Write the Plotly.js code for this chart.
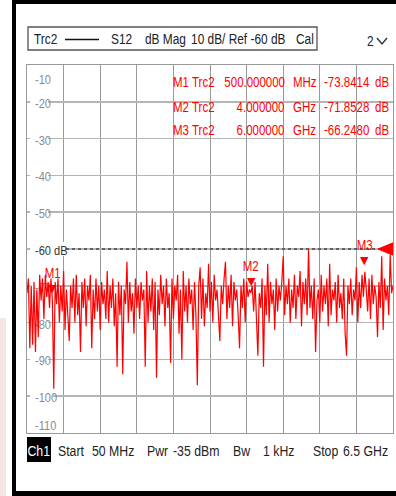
<!DOCTYPE html>
<html>
<head>
<meta charset="utf-8">
<script src="https://cdn.plot.ly/plotly-3.0.1.min.js"></script>
<style>
  html, body { margin: 0; padding: 0; background: #fff; }
  #chart { width: 396px; height: 496px; }
</style>
</head>
<body>
<div id="chart"></div>
<script>
// Sweep settings (GHz)
const startGHz = 0.05;
const stopGHz = 6.5;

// S12 magnitude per sweep point (dB)
const traceDb = [
  -72, -68, -87, -70, -86, -69, -88, -71, -84, -67,
  -74, -68, -79, -67, -73, -69, -76, -68, -73.8, -98,
  -69, -75, -68, -80, -70, -77, -66, -82, -71, -78,
  -85, -70, -76, -68, -80, -67, -78, -72, -88, -69,
  -76, -68, -81, -70, -74, -67, -87, -71, -79, -68,
  -77, -70, -82, -69, -75, -71, -79, -66, -80, -70,
  -76, -68, -81, -72, -92, -69, -78, -70, -94, -71,
  -75, -63.5, -80, -69, -77, -72, -83, -68, -76, -70,
  -79, -69, -74, -71, -92, -66, -80, -70, -77, -68,
  -82, -69, -95, -71, -78, -67, -75, -70, -81, -68,
  -76, -72, -91, -68, -79, -70, -74, -67, -83, -71,
  -90, -66, -77, -70, -80, -68, -75, -71, -82, -69,
  -78, -97, -70, -65, -79, -68, -81, -72, -76, -64,
  -77, -69, -80, -67, -74, -71, -78, -85, -70, -75,
  -68, -63.5, -79, -70, -76, -67, -81, -69, -74, -71,
  -78, -87, -70, -76, -68, -80, -69, -73, -71, -71.9,
  -70, -77, -69, -81, -89, -72, -76, -68, -92, -70,
  -78, -64, -80, -69, -75, -71, -82, -68, -77, -70,
  -74, -69, -62, -78, -70, -75, -68, -80, -71, -76,
  -67, -79, -70, -73, -66, -81, -69, -75, -68, -78,
  -60, -76, -70, -79, -68, -88, -74, -71, -80, -67,
  -77, -70, -75, -68, -81, -64, -78, -71, -74, -69,
  -80, -67, -76, -72, -79, -68, -83, -89, -70, -75,
  -68, -78, -71, -74, -65, -80, -69, -76, -67, -73,
  -66.2, -71, -77, -68, -79, -67, -75, -70, -73, -84,
  -69, -76, -62, -82, -68, -74, -70, -78, -61.5, -72,
  -70
];

// Markers
const markerNames = ['M1', 'M2', 'M3'];
const markerFreqGHz = [0.5, 4.0, 6.0];
const markerDb = [-73.8414, -71.8528, -66.2480];
const markerFreqText = ['500.000000', '4.000000', '6.000000'];
const markerUnit = ['MHz', 'GHz', 'GHz'];
const markerDbText = ['-73.8414', '-71.8528', '-66.2480'];

// Scale
const yMin = -110, yMax = -10;
const yTicks = [-10, -20, -30, -40, -50, -60, -70, -80, -90, -100, -110];
const refLevel = -60;
const refLabel = '-60 dB';

// Status lines
const headerItems = ['Trc2', 'S12', 'dB Mag', '10 dB/ Ref -60 dB', 'Cal'];
const headerX = [32, 109, 143, 189, 294];
const channelLabel = 'Ch1';
const footerItems = ['Start', '50 MHz', 'Pwr', '-35 dBm', 'Bw', '1 kHz', 'Stop', '6.5 GHz'];
const footerX = [56, 90, 145, 171, 231, 261, 311, 341];

// ---- geometry of the diagram area (pixels) ----
const W = 396, H = 496;
const PL = 27, PR = 393, PT = 65, PB = 433;
const px = v => (v - PL) / (PR - PL);
const py = v => (PB - v) / (PB - PT);
const ghzPerPx = (stopGHz - startGHz) / (PR - PL);
const dbPerPx = (yMax - yMin) / (PB - PT);

const FONT = 'Liberation Sans, Arial, sans-serif';
const NARROW = 0.82;       // horizontal squeeze for the condensed instrument font
const RED = '#ff0000';

const n = traceDb.length;
const freq = traceDb.map((_, i) => startGHz + i * (stopGHz - startGHz) / (n - 1));

const traces = [{
  type: 'scatter',
  mode: 'lines',
  x: freq,
  y: traceDb,
  line: { color: RED, width: 1.2 },
  hoverinfo: 'skip'
}];

const shapes = [];
const annotations = [];
const annAnchor = [];   // which side stays fixed when the text is narrowed
function addAnn(a, anchor) { annotations.push(a); annAnchor.push(anchor); }

// frame decoration around the display
const black = '#000';
shapes.push({ type: 'rect', xref: 'paper', yref: 'paper', x0: px(12), x1: px(W), y0: py(0), y1: py(4), fillcolor: black, line: { width: 0 } });
shapes.push({ type: 'rect', xref: 'paper', yref: 'paper', x0: px(12), x1: px(16), y0: py(0), y1: py(H), fillcolor: black, line: { width: 0 } });
shapes.push({ type: 'rect', xref: 'paper', yref: 'paper', x0: px(12), x1: px(W), y0: py(491), y1: py(H), fillcolor: black, line: { width: 0 } });
shapes.push({ type: 'rect', xref: 'paper', yref: 'paper', x0: px(0), x1: px(6), y0: py(318), y1: py(H), fillcolor: '#f3e6e6', line: { width: 0 } });

// header box
shapes.push({ type: 'rect', xref: 'paper', yref: 'paper', x0: px(28), x1: px(317), y0: py(27), y1: py(50), line: { color: '#555', width: 1.3 } });
shapes.push({ type: 'line', xref: 'paper', yref: 'paper', x0: px(65), x1: px(99), y0: py(39.5), y1: py(39.5), line: { color: '#111', width: 1.6 } });
shapes.push({ type: 'path', xref: 'paper', yref: 'paper',
  path: `M ${px(377)},${py(38)} L ${px(382)},${py(44)} L ${px(387)},${py(38)}`,
  line: { color: '#333', width: 1.4 } });

headerItems.forEach((t, i) => {
  addAnn({ xref: 'paper', yref: 'paper', x: px(headerX[i]), y: py(39.5), xanchor: 'left', yanchor: 'middle',
    text: t, showarrow: false, font: { family: FONT, size: 14.5, color: '#222' } }, 'left');
});
addAnn({ xref: 'paper', yref: 'paper', x: px(365), y: py(41), xanchor: 'left', yanchor: 'middle',
  text: '2', showarrow: false, font: { family: FONT, size: 14.5, color: '#222' } }, 'left');

// channel badge (black box with white text)
shapes.push({ type: 'rect', xref: 'paper', yref: 'paper', x0: px(27), x1: px(51), y0: py(437), y1: py(462),
  fillcolor: '#000', line: { width: 0 } });

// y scale labels on white patches, drawn between grid and trace
yTicks.forEach(v => {
  const isRef = v === refLevel;
  const text = isRef ? refLabel : String(v);
  // vertical extent in pixels relative to the gridline (up = positive)
  let top = 7, bot = -7;
  if (v === yMax) { top = -6; bot = -20; }
  if (v === yMin) { top = 16; bot = 2; }
  const wPx = isRef ? 38 : 6 + 5 * text.length;
  shapes.push({
    type: 'rect', layer: 'between',
    xref: 'x', x0: startGHz + 3 * ghzPerPx, x1: startGHz + wPx * ghzPerPx,
    yref: 'y', y0: v + bot * dbPerPx, y1: v + top * dbPerPx,
    fillcolor: '#fff', line: { width: 0 },
    label: { text: text, textposition: 'middle left', padding: 2,
      font: { family: FONT, size: 13.5, color: isRef ? '#333' : '#8a8a8a' } }
  });
});

// reference level line and indicator
shapes.push({ type: 'line', layer: 'between', xref: 'x', x0: startGHz + 39 * ghzPerPx, x1: startGHz + 353 * ghzPerPx,
  yref: 'y', y0: refLevel, y1: refLevel, line: { color: '#444', width: 1.5, dash: 'dot' } });
shapes.push({ type: 'path', xref: 'x', yref: 'y',
  path: `M ${stopGHz - 15 * ghzPerPx},${refLevel} L ${stopGHz + 2 * ghzPerPx},${refLevel + 7 * dbPerPx} L ${stopGHz + 2 * ghzPerPx},${refLevel - 7 * dbPerPx} Z`,
  fillcolor: RED, line: { color: RED, width: 1 } });

// markers on the trace
markerNames.forEach((m, i) => {
  addAnn({ xref: 'x', yref: 'y', x: markerFreqGHz[i], y: markerDb[i], xanchor: 'center', yanchor: 'bottom',
    yshift: 3, text: '▼', showarrow: false, font: { family: 'DejaVu Sans', size: 11, color: RED } }, null);
  addAnn({ xref: 'x', yref: 'y', x: markerFreqGHz[i], y: markerDb[i], xanchor: 'center', yanchor: 'bottom',
    yshift: 17, text: m, showarrow: false, font: { family: FONT, size: 14, color: RED } }, 'center');
});

// marker readout table
const rowY = [82, 107, 130];
markerNames.forEach((m, i) => {
  const f = { family: FONT, size: 14, color: RED };
  const y = py(rowY[i]);
  addAnn({ xref: 'paper', yref: 'paper', x: px(171), y, xanchor: 'left', yanchor: 'middle', text: m, showarrow: false, font: f }, 'left');
  addAnn({ xref: 'paper', yref: 'paper', x: px(190), y, xanchor: 'left', yanchor: 'middle', text: 'Trc2', showarrow: false, font: f }, 'left');
  addAnn({ xref: 'paper', yref: 'paper', x: px(287), y, xanchor: 'right', yanchor: 'middle', text: markerFreqText[i], showarrow: false, font: f }, 'right');
  addAnn({ xref: 'paper', yref: 'paper', x: px(291), y, xanchor: 'left', yanchor: 'middle', text: markerUnit[i], showarrow: false, font: f }, 'left');
  addAnn({ xref: 'paper', yref: 'paper', x: px(371), y, xanchor: 'right', yanchor: 'middle', text: markerDbText[i], showarrow: false, font: f }, 'right');
  addAnn({ xref: 'paper', yref: 'paper', x: px(373), y, xanchor: 'left', yanchor: 'middle', text: 'dB', showarrow: false, font: f }, 'left');
});

// channel status line
addAnn({ xref: 'paper', yref: 'paper', x: px(39), y: py(450), xanchor: 'center', yanchor: 'middle',
  text: channelLabel, showarrow: false, font: { family: FONT, size: 15, color: '#fff' } }, 'center');
footerItems.forEach((t, i) => {
  addAnn({ xref: 'paper', yref: 'paper', x: px(footerX[i]), y: py(450), xanchor: 'left', yanchor: 'middle',
    text: t, showarrow: false, font: { family: FONT, size: 15, color: '#222' } }, 'left');
});

const layout = {
  width: W, height: H,
  margin: { l: PL, r: W - PR, t: PT, b: H - PB, pad: 0 },
  paper_bgcolor: '#fff', plot_bgcolor: '#fff',
  showlegend: false,
  xaxis: {
    range: [startGHz, stopGHz], tick0: startGHz, dtick: (stopGHz - startGHz) / 10,
    showticklabels: false, ticks: '', showgrid: true, gridcolor: '#9a9a9a', gridwidth: 1,
    zeroline: false, showline: true, mirror: true, linecolor: '#9a9a9a', linewidth: 1, fixedrange: true
  },
  yaxis: {
    range: [yMin, yMax], tick0: yMin, dtick: 10,
    showticklabels: false, ticks: '', showgrid: true, gridcolor: '#b5b5b5', gridwidth: 1.6,
    zeroline: false, showline: true, mirror: true, linecolor: '#9a9a9a', linewidth: 1, fixedrange: true
  },
  shapes: shapes,
  annotations: annotations
};

// narrow a text element horizontally, keeping one side in place
function narrowText(el, side) {
  const bb = el.getBBox();
  if (!bb.width) return;
  const a = side === 'right' ? bb.x + bb.width : side === 'center' ? bb.x + bb.width / 2 : bb.x;
  const prev = el.getAttribute('transform') || '';
  el.setAttribute('transform', `${prev} translate(${a},0) scale(${NARROW},1) translate(${-a},0)`);
}

Plotly.newPlot('chart', traces, layout, { staticPlot: true, displayModeBar: false }).then(gd => {
  gd.querySelectorAll('g.annotation').forEach(g => {
    const idx = +g.getAttribute('data-index');
    const side = annAnchor[idx];
    const t = g.querySelector('text');
    if (side && t) narrowText(t, side);
  });
  gd.querySelectorAll('text').forEach(t => {
    if (t.closest('g.annotation')) return;
    if (t.closest('[class*="shape"]')) narrowText(t, 'left');
  });
});
</script>
</body>
</html>
